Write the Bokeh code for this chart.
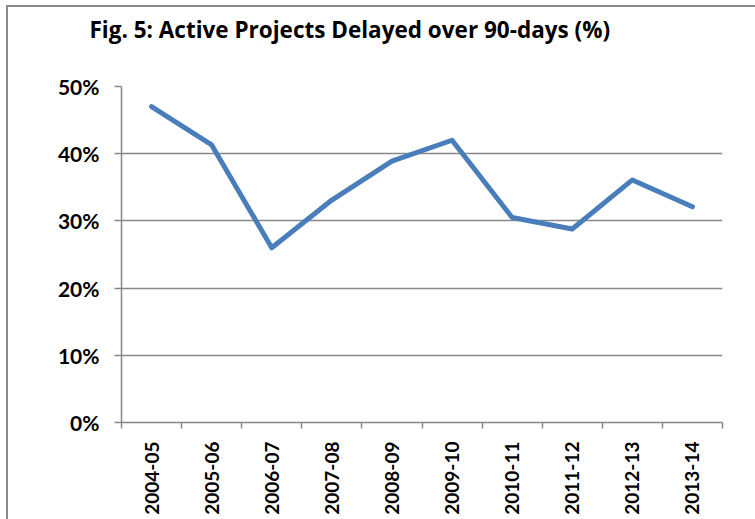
import math
from bokeh.plotting import figure
from bokeh.models import Range1d, FixedTicker, PrintfTickFormatter, Title
from bokeh.embed import file_html
from bokeh.resources import INLINE

# ---- data ----
periods = ["2004-05", "2005-06", "2006-07", "2007-08", "2008-09",
           "2009-10", "2010-11", "2011-12", "2012-13", "2013-14"]
delayed_pct = [47.0, 41.3, 26.0, 33.1, 38.9, 42.0, 30.5, 28.8, 36.1, 32.1]
y_ticks = [0, 10, 20, 30, 40, 50]
title_text = "Fig. 5: Active Projects Delayed over 90-days (%)"

xs = list(range(1, len(periods) + 1))
GRAY = "#878787"
FONT = "Lato"

p = figure(width=755, height=519, output_backend="svg", toolbar_location=None,
           x_range=Range1d(0.5, len(periods) + 0.5), y_range=Range1d(0, 50),
           min_border_left=121, min_border_right=33, min_border_top=86,
           min_border_bottom=97)
p.styles = {
    "background": ("linear-gradient(#8a8a8a,#8a8a8a) 6px 5px / 2px 100% no-repeat, "
                   "linear-gradient(#8a8a8a,#8a8a8a) 6px 5px / 100% 2px no-repeat, white"),
}
p.outline_line_color = None
p.background_fill_color = "white"
p.border_fill_alpha = 0

# spacer between title and plot frame (added first -> closest to the frame)
p.add_layout(Title(text=" ", text_font_size="10px", standoff=15), "above")
p.add_layout(Title(text=title_text, align="left", offset=-32, standoff=24,
                   vertical_align="top", text_font="Open Sans",
                   text_font_style="bold", text_font_size="22.5px",
                   text_color="black"), "above")

p.line(xs, delayed_pct, line_color="#4A7EBB", line_width=5,
       line_join="round", line_cap="round")

# x axis
xa = p.xaxis[0]
xa.ticker = FixedTicker(ticks=xs, minor_ticks=[x - 0.5 for x in xs] + [len(xs) + 0.5])
xa.major_label_overrides = {x: lab for x, lab in zip(xs, periods)}
xa.major_label_orientation = math.pi / 2
xa.major_tick_out = 0
xa.major_tick_in = 0
xa.minor_tick_out = 6
xa.minor_tick_in = 0
xa.minor_tick_line_color = GRAY
xa.minor_tick_line_width = 1.5
xa.axis_line_color = GRAY
xa.axis_line_width = 1.5
xa.major_label_standoff = 13
xa.major_label_text_font = FONT
xa.major_label_text_font_style = "bold"
xa.major_label_text_font_size = "19px"
xa.major_label_text_color = "black"

# y axis
ya = p.yaxis[0]
ya.ticker = FixedTicker(ticks=y_ticks)
ya.formatter = PrintfTickFormatter(format="%d%%")
ya.major_tick_out = 7
ya.major_tick_in = 0
ya.minor_tick_line_color = None
ya.major_tick_line_color = GRAY
ya.major_tick_line_width = 1.5
ya.axis_line_color = GRAY
ya.axis_line_width = 1.5
ya.major_label_standoff = 15
ya.major_label_text_font = FONT
ya.major_label_text_font_style = "bold"
ya.major_label_text_font_size = "21px"
ya.major_label_text_color = "black"

p.xgrid.grid_line_color = None
p.ygrid.ticker = FixedTicker(ticks=y_ticks)
p.ygrid.grid_line_color = GRAY
p.ygrid.grid_line_width = 1.5

open("out.html", "w").write(file_html(p, INLINE))
